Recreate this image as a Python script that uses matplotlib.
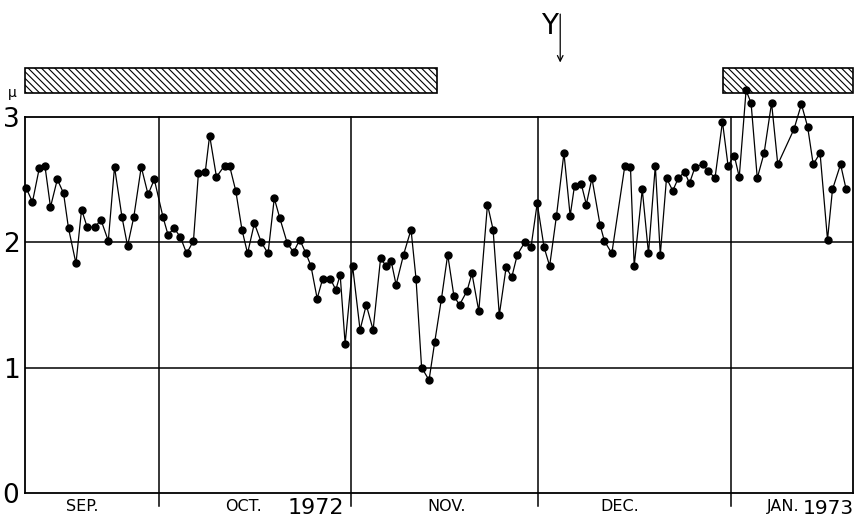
"""Daily mean values, Sep 1972 - Jan 1973, with hatched period bars on top."""

import matplotlib
matplotlib.use("Agg")
import matplotlib.pyplot as plt
from matplotlib.patches import Rectangle

plt.rcParams["font.family"] = ["Liberation Sans Narrow", "DejaVu Sans"]
plt.rcParams["hatch.linewidth"] = 0.8

# day number counted from 1 Sep 1972 (1 Oct = 30, 1 Nov = 61, 1 Dec = 91, 1 Jan = 122)
days = [
    8.7, 9.7, 10.8, 11.7, 12.6, 13.7, 14.7, 15.5, 16.7, 17.6,
    18.5, 19.8, 20.7, 21.9, 22.9, 24.1, 25.0, 26.0, 27.2, 28.3,
    29.3, 30.7, 31.5, 32.5, 33.5, 34.5, 35.6, 36.4, 37.5, 38.2,
    39.3, 40.6, 41.4, 42.4, 43.4, 44.3, 45.4, 46.5, 47.6, 48.6,
    49.5, 50.7, 51.7, 52.7, 53.7, 54.5, 55.5, 56.4, 57.6, 58.5,
    59.2, 60.0, 61.2, 62.4, 63.4, 64.5, 65.7, 66.6, 67.4, 68.2,
    69.4, 70.6, 71.4, 72.3, 73.5, 74.4, 75.5, 76.5, 77.5, 78.4,
    79.6, 80.4, 81.5, 82.9, 83.8, 84.8, 85.9, 86.8, 87.7, 88.9,
    89.9, 90.9, 92.0, 92.9, 94.0, 95.2, 96.2, 96.9, 98.0, 98.8,
    99.7, 101.0, 101.7, 102.9, 105.0, 105.9, 106.5, 107.8, 108.8, 109.9,
    110.7, 111.7, 112.7, 113.6, 114.6, 115.4, 116.3, 117.5, 118.4, 119.5,
    120.7, 121.6, 122.6, 123.4, 124.5, 125.3, 126.3, 127.4, 128.6, 129.6,
    132.2, 133.4, 134.4, 135.3, 136.4, 137.6, 138.4, 139.7, 140.6,
]
values = [
    2.43, 2.32, 2.59, 2.61, 2.28, 2.50, 2.39, 2.11, 1.83, 2.26,
    2.12, 2.12, 2.18, 2.01, 2.60, 2.20, 1.97, 2.20, 2.60, 2.38,
    2.50, 2.20, 2.06, 2.11, 2.04, 1.91, 2.01, 2.55, 2.56, 2.85,
    2.52, 2.61, 2.61, 2.41, 2.10, 1.91, 2.15, 2.00, 1.91, 2.35,
    2.19, 1.99, 1.92, 2.02, 1.91, 1.81, 1.55, 1.71, 1.71, 1.62,
    1.74, 1.19, 1.81, 1.30, 1.50, 1.30, 1.87, 1.81, 1.85, 1.66,
    1.90, 2.10, 1.71, 1.00, 0.90, 1.20, 1.55, 1.90, 1.57, 1.50,
    1.61, 1.75, 1.45, 2.30, 2.10, 1.42, 1.80, 1.72, 1.90, 2.00,
    1.96, 2.31, 1.96, 1.81, 2.21, 2.71, 2.21, 2.45, 2.46, 2.30,
    2.51, 2.14, 2.01, 1.91, 2.61, 2.60, 1.81, 2.42, 1.91, 2.61,
    1.90, 2.51, 2.41, 2.51, 2.56, 2.47, 2.60, 2.62, 2.57, 2.51,
    2.96, 2.61, 2.69, 2.52, 3.21, 3.11, 2.51, 2.71, 3.11, 2.62,
    2.90, 3.10, 2.92, 2.62, 2.71, 2.02, 2.42, 2.62, 2.42,
]

month_bounds = [30, 61, 91, 122]
month_names = ["SEP.", "OCT.", "NOV.", "DEC.", "JAN."]
month_label_x = [17.7, 43.6, 76.4, 104.2, 130.4]
years = ["1972", "1973"]
year_label_x = [55.3, 141.9]

# hatched periods (start day, end day)
periods = [(8.5, 74.8), (120.8, 141.7)]
marker_day = 94.6
marker_label = "Y"

fig = plt.figure(figsize=(8.56, 5.19), dpi=100)
ax = fig.add_axes([25 / 856, 26 / 519, 828 / 856, 376.3 / 519])
ax.set_xlim(8.5, 141.7)
ax.set_ylim(0, 3)

for s in ax.spines.values():
    s.set_linewidth(1.3)

for y in (1, 2):
    ax.axhline(y, color="black", lw=1.1)
for d in month_bounds:
    ax.plot([d, d], [-0.1, 3], color="black", lw=1.1, clip_on=False)

ax.plot(days, values, color="black", lw=0.9, marker="o", ms=5,
        mfc="black", mec="black", clip_on=False, zorder=3)

ax.set_xticks([])
ax.set_yticks([0, 1, 2, 3])
ax.set_yticklabels(["0", "1", "2", "3"], fontsize=19)
ax.tick_params(axis="y", length=0, pad=4)
ax.text(-0.015, 1.062, "μ", transform=ax.transAxes, fontsize=10,
        ha="center", va="center")

xt = ax.get_xaxis_transform()
for name, x in zip(month_names, month_label_x):
    ax.text(x, -0.036, name, transform=xt, fontsize=11.5, ha="center", va="center")
ax.text(year_label_x[0], -0.066, years[0], transform=xt, fontsize=16,
        ha="center", va="bottom")
ax.text(year_label_x[1], -0.066, years[1], transform=xt, fontsize=14.5,
        ha="right", va="bottom")

for start, end in periods:
    ax.add_patch(Rectangle((start, 3.19), end - start, 0.2, facecolor="white",
                           edgecolor="black", lw=1.2, hatch="\\\\\\\\\\",
                           clip_on=False, zorder=2))

ax.annotate("", xy=(marker_day, 3.41), xytext=(marker_day, 3.84),
            arrowprops=dict(arrowstyle="->", color="black", lw=0.9),
            annotation_clip=False)
ax.text(marker_day - 1.7, 3.72, marker_label, fontsize=20, ha="center",
        va="center")

fig.savefig("out.png", dpi=100)
